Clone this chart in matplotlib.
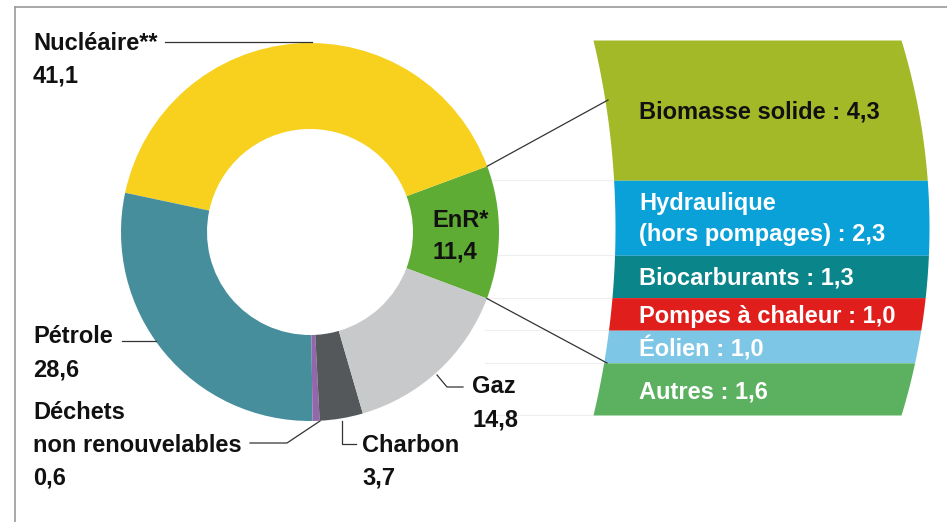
import numpy as np
import matplotlib.pyplot as plt

# donut data (counterclockwise starting from EnR)
mix_labels = ['EnR*', 'Nucléaire**', 'Pétrole', 'Déchets non renouvelables', 'Charbon', 'Gaz']
mix_values = [11.4, 41.1, 28.6, 0.6, 3.7, 14.8]
mix_colors = ['#5fac35', '#f7d11e', '#478e9d', '#9467ad', '#55585b', '#c8c9cb']

# renewable breakdown (top to bottom)
enr_labels = ['Biomasse solide : 4,3', 'Hydraulique\n(hors pompages) : 2,3', 'Biocarburants : 1,3',
              'Pompes à chaleur : 1,0', 'Éolien : 1,0', 'Autres : 1,6']
enr_values = [4.3, 2.3, 1.3, 1.0, 1.0, 1.6]
enr_colors = ['#a4b927', '#0aa0d8', '#0a8589', '#e01f1c', '#7ec6e6', '#5cb161']
enr_text_colors = ['#111111', 'white', 'white', 'white', 'white', 'white']

W, H = 947, 522
plt.rcParams['font.family'] = ['Liberation Sans', 'DejaVu Sans']

fig = plt.figure(figsize=(W / 100, H / 100), dpi=100)
ax = fig.add_axes([0, 0, 1, 1])


def py(y):
    # pixel row (from top) -> data y
    return H - y


# donut
cx, cy, r_out, r_in = 310, py(232), 189, 103
start = -20.6
ax.pie(mix_values, colors=mix_colors, startangle=start, counterclock=True,
       radius=r_out, center=(cx, cy), wedgeprops=dict(width=r_out - r_in, linewidth=0))

ax.set_xlim(0, W)
ax.set_ylim(0, H)
ax.set_aspect('auto')
ax.axis('off')

# frame (top and left only)
ax.plot([15, W], [py(7), py(7)], color='#9a9a9a', lw=1.2)
ax.plot([15, 15], [py(7), 0], color='#9a9a9a', lw=1.2)

# renewables stacked band with curved sides
bar_top, bar_bot = py(40), py(415)
yc = (bar_top + bar_bot) / 2


def left_edge(y):
    R, xm = 810, 615
    return xm - R + np.sqrt(R ** 2 - (y - yc) ** 2)


def right_edge(y):
    R, xm = 642, 929
    return xm - R + np.sqrt(R ** 2 - (y - yc) ** 2)


scale = (bar_top - bar_bot) / sum(enr_values)
tops = bar_top - scale * np.concatenate([[0], np.cumsum(enr_values)[:-1]])
for i, val in enumerate(enr_values):
    hi = tops[i]
    lo = hi - val * scale
    yy = np.linspace(lo, hi, 60)
    ax.fill_betweenx(yy, left_edge(yy), right_edge(yy), color=enr_colors[i], lw=0)
    if i > 0:
        ax.plot([485, left_edge(hi)], [hi, hi], color='#eeeeee', lw=0.8, zorder=0)
ax.plot([485, left_edge(bar_bot)], [bar_bot, bar_bot], color='#eeeeee', lw=0.8, zorder=0)

# baseline of each text line (pixels from top)
text_y = [[118], [210, 241], [285], [323], [357], [398]]
fs = 17
for lab, tys, tc in zip(enr_labels, text_y, enr_text_colors):
    for line, ty in zip(lab.split('\n'), tys):
        ax.text(639, py(ty), line, color=tc, fontsize=fs, fontweight='bold', va='baseline', ha='left')

# connectors from EnR wedge to the band
a1 = np.deg2rad(start + 360 * mix_values[0] / sum(mix_values))
a0 = np.deg2rad(start)
ax.plot([cx + r_out * np.cos(a1), 608], [cy + r_out * np.sin(a1), py(100)], color='#333333', lw=0.9)
ax.plot([cx + r_out * np.cos(a0), 607], [cy + r_out * np.sin(a0), py(363)], color='#333333', lw=0.9)

# donut labels
lab_kw = dict(fontsize=fs, fontweight='bold', color='#111111', va='baseline', ha='left')
ax.text(33, py(49.5), 'Nucléaire**', **lab_kw)
ax.text(33, py(82), '41,1', **lab_kw)
ax.plot([165, 312], [py(42), py(42)], color='#333333', lw=0.9)

ax.text(33, py(343), 'Pétrole', **lab_kw)
ax.text(33, py(377), '28,6', **lab_kw)
ax.plot([122, 156], [py(341), py(341)], color='#333333', lw=0.9)

ax.text(33, py(419), 'Déchets', **lab_kw)
ax.text(33, py(452), 'non renouvelables', **lab_kw)
ax.text(33, py(484), '0,6', **lab_kw)
ax.plot([250, 287, 320], [py(443), py(443), py(421)], color='#333333', lw=0.9)

ax.text(362, py(452), 'Charbon', **lab_kw)
ax.text(362, py(484), '3,7', **lab_kw)
ax.plot([342, 342, 356], [py(421), py(444), py(444)], color='#333333', lw=0.9)

ax.text(472, py(393), 'Gaz', **lab_kw)
ax.text(472, py(427), '14,8', **lab_kw)
ax.plot([437, 447, 463], [py(375), py(387), py(387)], color='#333333', lw=0.9)

ax.text(432, py(227), 'EnR*', **lab_kw)
ax.text(432, py(258), '11,4', **lab_kw)

fig.savefig('out.png', dpi=100)
